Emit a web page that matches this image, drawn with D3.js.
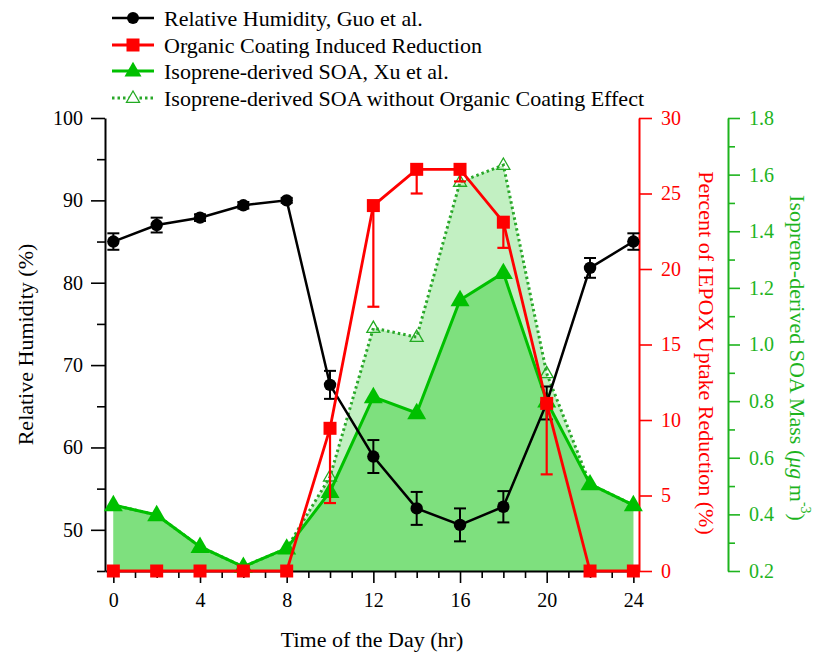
<!DOCTYPE html>
<html>
<head>
<meta charset="utf-8">
<script src="https://cdn.jsdelivr.net/npm/d3@7"></script>
<style>
  body { margin: 0; background: #fff; }
  svg text { font-family: "Liberation Serif", "DejaVu Serif", "Times New Roman", Times, serif; }
</style>
</head>
<body>
<script>
// hours of the day, every 2 h
const hours = [0, 2, 4, 6, 8, 10, 12, 14, 16, 18, 20, 22, 24];
// relative humidity (%) and its error
const rh = [85.0, 87.0, 87.9, 89.4, 90.0, 67.6, 58.9, 52.6, 50.6, 52.8, 65.4, 81.8, 85.0];
const rhErr = [1.0, 0.9, 0.4, 0.4, 0.3, 1.7, 2.0, 2.0, 2.0, 1.9, 2.0, 1.2, 1.0];
// percent of IEPOX uptake reduction, with lower error only
const reduction = [0, 0, 0, 0, 0, 9.45, 24.2, 26.6, 26.6, 23.1, 11.1, 0, 0];
const reductionErr = [0, 0, 0, 0, 0, 4.95, 6.7, 1.6, 0.8, 1.7, 4.7, 0, 0];
// isoprene-derived SOA mass (ug m-3)
const soa = [0.433, 0.398, 0.286, 0.215, 0.28, 0.48, 0.815, 0.758, 1.157, 1.253, 0.80, 0.507, 0.433];
const soaNoCoating = [0.433, 0.398, 0.286, 0.215, 0.28, 0.533, 1.058, 1.026, 1.574, 1.634, 0.898, 0.507, 0.433];

// tick labels
const xMajor = [0, 4, 8, 12, 16, 20, 24];
const xMinor = d3.range(0, 25, 1).filter(hr => hr % 4 !== 0);
const rhMajor = [50, 60, 70, 80, 90, 100];
const rhMinor = [45, 55, 65, 75, 85, 95];
const pctMajor = [0, 5, 10, 15, 20, 25, 30];
const soaMajor = [0.2, 0.4, 0.6, 0.8, 1.0, 1.2, 1.4, 1.6, 1.8];
const soaMinor = [0.3, 0.5, 0.7, 0.9, 1.1, 1.3, 1.5, 1.7];

const legendLabels = [
  "Relative Humidity, Guo et al.",
  "Organic Coating Induced Reduction",
  "Isoprene-derived SOA, Xu et al.",
  "Isoprene-derived SOA without Organic Coating Effect"
];

const w = 814, h = 656;
const plotTop = 118, plotBottom = 571, plotLeft = 105, plotRight = 639, greenX = 728;
const red = "#ff0000", green = "#00c000", greenAxis = "#1eb41e";
const serif = "'Liberation Serif', 'DejaVu Serif', 'Times New Roman', serif";
const titleSize = 22;

const svg = d3.select("body").append("svg").attr("width", w).attr("height", h)
  .style("font-family", serif);

const x = d3.scaleLinear().domain([-0.385, 24.26]).range([plotLeft, plotRight]);
const yRH = d3.scaleLinear().domain([45, 100]).range([plotBottom, plotTop]);
const yPct = d3.scaleLinear().domain([0, 30]).range([plotBottom, plotTop]);
const ySoa = d3.scaleLinear().domain([0.2, 1.8]).range([plotBottom, plotTop]);

// shaded areas
const area = d3.area().x((d, i) => x(hours[i])).y0(ySoa(0.2)).y1(d => ySoa(d));
svg.append("path").datum(soaNoCoating).attr("d", area).attr("fill", "#c2f0c2");
svg.append("path").datum(soa).attr("d", area).attr("fill", "#7ee07e");

// axes
function styleAxis(g, color) {
  g.attr("font-family", null);
  g.selectAll("path").attr("stroke", color).attr("stroke-width", 2);
  g.selectAll("line").attr("stroke", color).attr("stroke-width", 1.6);
  g.selectAll("text").attr("fill", color).attr("font-size", 20).style("font-family", serif);
}

const xAxis = svg.append("g").attr("transform", "translate(0," + plotBottom + ")")
  .call(d3.axisBottom(x).tickValues(xMajor).tickSize(12).tickSizeOuter(0).tickPadding(10).tickFormat(d3.format("d")));
styleAxis(xAxis, "#000");
svg.append("g").attr("transform", "translate(0," + plotBottom + ")")
  .call(d3.axisBottom(x).tickValues(xMinor).tickSize(7).tickFormat(""))
  .call(g => { g.select(".domain").remove(); styleAxis(g, "#000"); });

const lAxis = svg.append("g").attr("transform", "translate(" + plotLeft + ",0)")
  .call(d3.axisLeft(yRH).tickValues(rhMajor).tickSize(14).tickSizeOuter(0).tickPadding(8));
styleAxis(lAxis, "#000");
svg.append("g").attr("transform", "translate(" + plotLeft + ",0)")
  .call(d3.axisLeft(yRH).tickValues(rhMinor).tickSize(8).tickFormat(""))
  .call(g => { g.select(".domain").remove(); styleAxis(g, "#000"); });

const rAxis = svg.append("g").attr("transform", "translate(" + plotRight + ",0)")
  .call(d3.axisRight(yPct).tickValues(pctMajor).tickSize(13).tickSizeOuter(0).tickPadding(9));
styleAxis(rAxis, red);

const gAxis = svg.append("g").attr("transform", "translate(" + greenX + ",0)")
  .call(d3.axisRight(ySoa).tickValues(soaMajor).tickSize(12).tickSizeOuter(0).tickPadding(9).tickFormat(d3.format(".1f")));
styleAxis(gAxis, greenAxis);
svg.append("g").attr("transform", "translate(" + greenX + ",0)")
  .call(d3.axisRight(ySoa).tickValues(soaMinor).tickSize(7).tickFormat(""))
  .call(g => { g.select(".domain").remove(); styleAxis(g, greenAxis); });

// axis titles
svg.append("text").attr("x", (plotLeft + plotRight) / 2).attr("y", 647).attr("text-anchor", "middle")
  .attr("font-size", titleSize).text("Time of the Day (hr)");
svg.append("text").attr("transform", "translate(28," + (plotTop + plotBottom) / 2 + ") rotate(-90)")
  .attr("text-anchor", "middle").attr("dominant-baseline", "middle").attr("font-size", titleSize)
  .text("Relative Humidity (%)");
svg.append("text").attr("transform", "translate(704,353) rotate(90)")
  .attr("text-anchor", "middle").attr("dominant-baseline", "middle").attr("font-size", titleSize)
  .attr("fill", red).text("Percent of IEPOX Uptake Reduction (%)");
const gt = svg.append("text").attr("transform", "translate(795,358) rotate(90)")
  .attr("text-anchor", "middle").attr("dominant-baseline", "middle").attr("font-size", titleSize)
  .attr("fill", greenAxis);
gt.append("tspan").text("Isoprene-derived SOA Mass (");
gt.append("tspan").attr("font-style", "italic").text("\u03bcg");
gt.append("tspan").text(" m");
gt.append("tspan").attr("font-size", 14).attr("dy", -9).text("-3");
gt.append("tspan").attr("dy", 9).text(")");

// triangle path helper
function tri(cx, cy, s) {
  const hh = s * 0.866;
  return "M" + cx + "," + (cy - hh * 0.62) + "L" + (cx + s / 2) + "," + (cy + hh * 0.38) +
    "L" + (cx - s / 2) + "," + (cy + hh * 0.38) + "Z";
}

// SOA without coating: dotted line + open triangles
const lineSoa = d3.line().x((d, i) => x(hours[i])).y(d => ySoa(d));
svg.append("path").datum(soaNoCoating).attr("d", lineSoa).attr("fill", "none")
  .attr("stroke", "#2aa82a").attr("stroke-width", 3).attr("stroke-dasharray", "2.5,3");
svg.append("g").selectAll("path").data(soaNoCoating).join("path")
  .attr("d", (d, i) => tri(x(hours[i]), ySoa(d), 13))
  .attr("fill", "none").attr("stroke", "#22aa22").attr("stroke-width", 1.3);

// SOA solid line + filled triangles
svg.append("path").datum(soa).attr("d", lineSoa).attr("fill", "none")
  .attr("stroke", green).attr("stroke-width", 3);
svg.append("g").selectAll("path").data(soa).join("path")
  .attr("d", (d, i) => tri(x(hours[i]), ySoa(d), 19))
  .attr("fill", green);

// relative humidity
const lineRH = d3.line().x((d, i) => x(hours[i])).y(d => yRH(d));
svg.append("path").datum(rh).attr("d", lineRH).attr("fill", "none")
  .attr("stroke", "#000").attr("stroke-width", 2.5);
const rhErrG = svg.append("g").attr("stroke", "#000").attr("stroke-width", 2);
rh.forEach((v, i) => {
  const cx = x(hours[i]), y1 = yRH(v + rhErr[i]), y2 = yRH(v - rhErr[i]);
  rhErrG.append("line").attr("x1", cx).attr("x2", cx).attr("y1", y1).attr("y2", y2);
  rhErrG.append("line").attr("x1", cx - 6).attr("x2", cx + 6).attr("y1", y1).attr("y2", y1);
  rhErrG.append("line").attr("x1", cx - 6).attr("x2", cx + 6).attr("y1", y2).attr("y2", y2);
});
svg.append("g").selectAll("circle").data(rh).join("circle")
  .attr("cx", (d, i) => x(hours[i])).attr("cy", d => yRH(d)).attr("r", 6.2).attr("fill", "#000");

// organic coating reduction
const linePct = d3.line().x((d, i) => x(hours[i])).y(d => yPct(d));
svg.append("path").datum(reduction).attr("d", linePct).attr("fill", "none")
  .attr("stroke", red).attr("stroke-width", 2.8);
const redErrG = svg.append("g").attr("stroke", red).attr("stroke-width", 2.2);
reduction.forEach((v, i) => {
  if (!reductionErr[i]) return;
  const cx = x(hours[i]), y1 = yPct(v), y2 = yPct(v - reductionErr[i]);
  redErrG.append("line").attr("x1", cx).attr("x2", cx).attr("y1", y1).attr("y2", y2);
  redErrG.append("line").attr("x1", cx - 6).attr("x2", cx + 6).attr("y1", y2).attr("y2", y2);
});
svg.append("g").selectAll("rect").data(reduction).join("rect")
  .attr("x", (d, i) => x(hours[i]) - 6.5).attr("y", d => yPct(d) - 6.5)
  .attr("width", 13).attr("height", 13).attr("fill", red);

// legend
const lg = svg.append("g");
const rows = [18, 45, 71, 98];
legendLabels.forEach((label, i) => {
  const y = rows[i];
  const cx = 133;
  if (i === 0) {
    lg.append("line").attr("x1", 112).attr("x2", 154).attr("y1", y).attr("y2", y).attr("stroke", "#000").attr("stroke-width", 2.5);
    lg.append("circle").attr("cx", cx).attr("cy", y).attr("r", 6).attr("fill", "#000");
  } else if (i === 1) {
    lg.append("line").attr("x1", 112).attr("x2", 154).attr("y1", y).attr("y2", y).attr("stroke", red).attr("stroke-width", 2.8);
    lg.append("rect").attr("x", cx - 6.5).attr("y", y - 6.5).attr("width", 13).attr("height", 13).attr("fill", red);
  } else if (i === 2) {
    lg.append("line").attr("x1", 112).attr("x2", 154).attr("y1", y).attr("y2", y).attr("stroke", green).attr("stroke-width", 3);
    lg.append("path").attr("d", tri(cx, y, 17)).attr("fill", green);
  } else {
    lg.append("line").attr("x1", 112).attr("x2", 154).attr("y1", y).attr("y2", y).attr("stroke", "#2aa82a")
      .attr("stroke-width", 3).attr("stroke-dasharray", "2.5,3");
    lg.append("path").attr("d", tri(cx, y, 13)).attr("fill", "#fff").attr("stroke", "#22aa22").attr("stroke-width", 1.3);
  }
  lg.append("text").attr("x", 164).attr("y", y).attr("dominant-baseline", "central")
    .attr("font-size", titleSize).text(label);
});
</script>
</body>
</html>
